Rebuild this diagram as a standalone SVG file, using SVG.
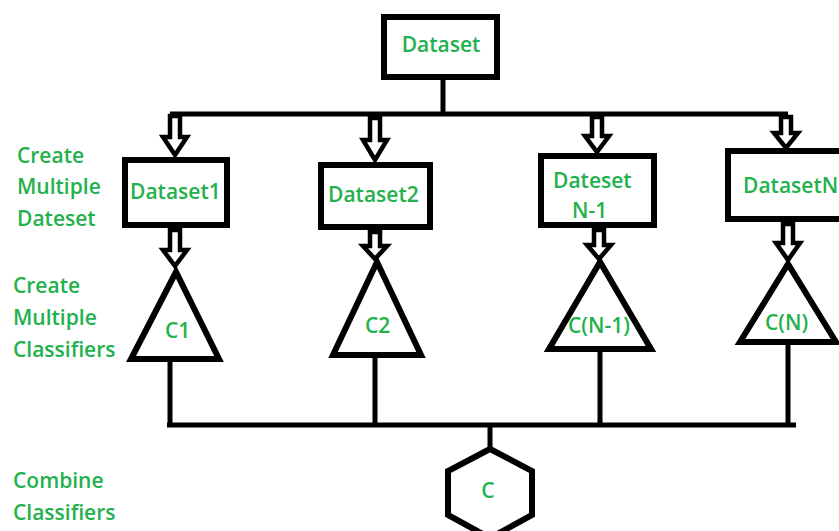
<svg xmlns="http://www.w3.org/2000/svg" width="839" height="531" viewBox="0 0 839 531">
<style>
.box{fill:#fff;stroke:#000;stroke-width:6}
.tri{fill:#fff;stroke:#000;stroke-width:6;stroke-linejoin:miter}
.ln{fill:none;stroke:#000;stroke-width:5}
.arr{fill:#fff;stroke:#000;stroke-width:4.5;stroke-linejoin:miter}
text{font-family:"Open Sans","Liberation Sans",sans-serif;font-weight:600;font-size:21px;fill:#22b14c}
.c{text-anchor:middle}
</style>
<rect width="839" height="531" fill="#fff"/>
<g id="connectors">
<path class="ln" d="M443,78 V114 M170,114 H788"/>
<path class="ln" d="M170,359 V425 M375,355 V425 M600,349 V425 M788,342 V425 M167,425 H796 M490,425 V449"/>
<path class="arr" d="M170,116 H180 V137 H187 L175,155 L163,137 H170 Z"/>
<path class="arr" d="M370,118 H380 V140 H387 L375,160 L363,140 H370 Z"/>
<path class="arr" d="M592,117 H602 V136 H609 L597,152 L585,136 H592 Z"/>
<path class="arr" d="M781,117 H791 V133 H798 L786,148 L774,133 H781 Z"/>
<path class="arr" d="M170,230 H180 V250 H187 L175,266 L163,250 H170 Z"/>
<path class="arr" d="M370,232 H380 V246 H387 L375,259 L363,246 H370 Z"/>
<path class="arr" d="M594,230 H604 V245 H611 L599,259 L587,245 H594 Z"/>
<path class="arr" d="M783,224 H793 V243 H800 L788,260 L776,243 H783 Z"/>
</g>
<g id="dataset"><rect class="box" x="384" y="17" width="113" height="60"/><text class="c" x="441" y="52">Dataset</text></g>
<g id="dataset1"><rect class="box" x="125" y="160" width="102" height="65"/><text x="130" y="199">Dataset1</text></g>
<g id="dataset2"><rect class="box" x="321" y="165" width="109" height="62"/><text x="328" y="202">Dataset2</text></g>
<g id="datasetN1"><rect class="box" x="541" y="156" width="113" height="69"/><text x="553" y="188">Dateset</text><text x="572" y="218">N-1</text></g>
<g id="datasetN"><rect class="box" x="728" y="151" width="125" height="68"/><text x="743" y="193">DatasetN</text></g>
<g id="c1"><polygon class="tri" points="176,272 131,359 219,359"/><text x="165" y="338">C1</text></g>
<g id="c2"><polygon class="tri" points="377,262 333,355 421,355"/><text x="365" y="333">C2</text></g>
<g id="cN1"><polygon class="tri" points="600,262 549,349 651,349"/><text x="568" y="333">C(N-1)</text></g>
<g id="cN"><polygon class="tri" points="788,264 740,342 836,342"/><text x="765" y="330">C(N)</text></g>
<g id="c"><polygon class="tri" stroke-width="5" points="490,449 532,471 532,515 490,538 448,515 448,471"/><text class="c" x="488" y="498">C</text></g>
<g id="labels">
<text x="17" y="163">Create</text><text x="17" y="194">Multiple</text><text x="17" y="226">Dateset</text>
<text x="13" y="293">Create</text><text x="13" y="325">Multiple</text><text x="13" y="357">Classifiers</text>
<text x="13" y="488">Combine</text><text x="13" y="520">Classifiers</text>
</g>
</svg>
